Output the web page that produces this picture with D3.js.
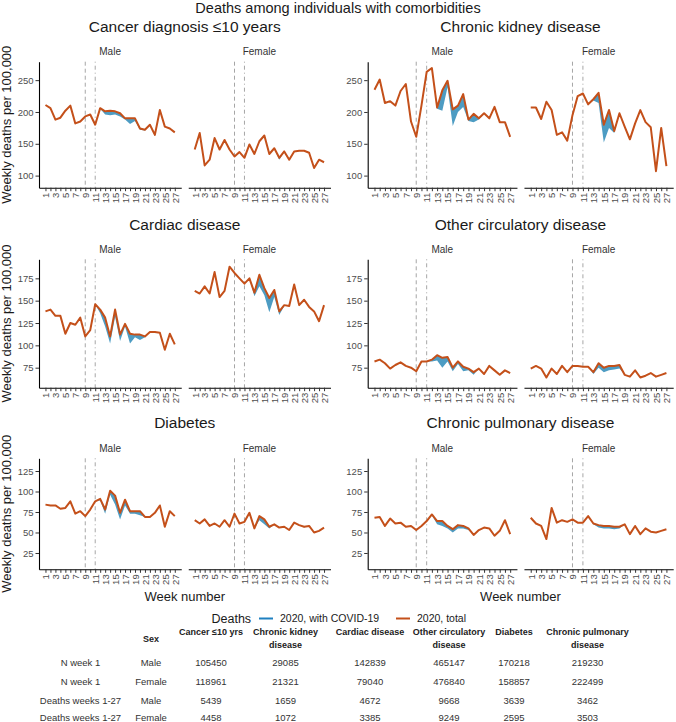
<!DOCTYPE html>
<html><head><meta charset="utf-8">
<script src="https://cdn.jsdelivr.net/npm/d3@7"></script>
<style>
body{margin:0;background:#fff}
svg{display:block;font-family:"Liberation Sans",Arial,Helvetica,sans-serif}
</style>
</head><body>
<svg id="chart" width="676" height="722"></svg>
<script>
// ---------------- DATA ----------------
const weeks = [1,2,3,4,5,6,7,8,9,10,11,12,13,14,15,16,17,18,19,20,21,22,23,24,25,26,27];
const weekTickLabels = [1,3,5,7,9,11,13,15,17,19,21,23,25,27];
const eventWeeks = [9, 11];
const sexes = ["Male", "Female"];
const panelTitles = ["Cancer diagnosis ≤10 years","Chronic kidney disease","Cardiac disease",
                     "Other circulatory disease","Diabetes","Chronic pulmonary disease"];

// weekly deaths per 100,000 (2020, total) and the part with COVID-19
const cancerMale       = [211,206,188,191,202,210,182,185,193,196,180,206,201,202,201,198,190,190,190,174,172,180,164,203,177,174,168];
const cancerMaleCovid  = [0,0,0,0,0,0,0,0,0,0,0,1,5,7,5,5,2,9,4,2,1,0,2,0,0,0,0];
const cancerFemale     = [141,167,116,125,159,141,156,141,130,137,128,149,134,154,163,134,143,128,138,125,138,139,139,136,112,125,121];
const cancerFemaleCovid= [0,0,0,0,0,0,0,0,0,0,0,0,1,1,2,0,1,3,1,0,0,0,0,0,0,0,0];

const kidneyMale       = [235,251,214,217,210,233,244,185,161,210,263,269,207,234,249,204,210,228,188,197,190,198,190,208,184,184,161];
const kidneyMaleCovid  = [0,0,0,0,0,0,0,0,0,0,0,0,2,32,10,26,10,20,2,13,2,0,0,0,0,0,0];
const kidneyFemale     = [207,207,189,216,203,164,168,155,195,225,229,212,220,230,180,203,170,198,177,157,182,203,184,176,107,175,115];
const kidneyFemaleCovid= [0,0,0,0,0,0,0,0,0,0,0,0,2,16,28,28,3,0,0,0,0,0,0,0,0,0,0];

const cardiacMale       = [138,140,133,133,113,125,123,131,110,117,146,140,131,110,140,112,124,113,112,112,110,115,115,114,95,113,101];
const cardiacMaleCovid  = [0,0,0,0,0,0,0,0,0,0,0,4,10,8,8,7,3,11,3,6,1,0,0,0,0,0,0];
const cardiacFemale     = [161,158,166,158,182,154,161,188,181,175,169,175,159,179,164,153,162,138,145,144,168,145,151,143,138,127,145];
const cardiacFemaleCovid= [0,0,0,0,0,0,0,0,0,0,0,0,4,13,8,16,8,4,1,0,0,0,0,0,0,0,0];

const circMale       = [82,84,80,74,78,81,77,75,71,82,82,84,89,86,87,75,82,76,74,70,74,68,77,72,67,72,69];
const circMaleCovid  = [0,0,0,0,0,0,0,0,0,0,0,2,6,11,5,4,3,5,2,3,0,0,0,0,0,0,0];
const circFemale     = [74,77,74,64,74,68,77,70,77,77,76,76,70,80,75,77,77,78,67,65,72,64,66,69,65,67,69];
const circFemaleCovid= [0,0,0,0,0,0,0,0,0,0,0,0,2,5,5,5,4,4,0,0,0,0,0,0,0,0,0];

const diabMale       = [84,83,83,79,80,88,73,76,70,78,88,91,78,101,95,74,90,76,76,76,69,69,74,83,57,76,70];
const diabMaleCovid  = [0,0,0,0,0,0,0,0,0,0,0,2,5,5,11,8,7,3,3,5,0,0,0,0,0,0,0];
const diabFemale     = [65,61,66,58,61,57,65,57,73,61,63,74,55,70,66,57,60,56,57,53,62,59,57,58,50,52,56];
const diabFemaleCovid= [0,0,0,0,0,0,0,0,0,0,0,0,0,5,6,2,0,0,0,0,0,0,1,0,0,0,0];

const copdMale       = [68,69,58,67,61,62,57,58,53,58,64,72,64,64,58,54,59,58,55,47,53,56,55,46,52,65,48];
const copdMaleCovid  = [0,0,0,0,0,0,0,0,0,0,0,1,4,6,3,4,4,3,2,0,0,0,0,0,0,0,0];
const copdFemale     = [68,61,58,42,80,62,65,63,66,62,62,70,61,59,58,58,57,57,60,48,58,48,55,51,50,52,54];
const copdFemaleCovid= [0,0,0,0,0,0,0,0,0,0,0,0,1,3,3,3,3,2,0,0,0,0,0,0,0,0,0];

const rowYTicks   = [[100,150,200,250],[75,100,125,150,175],[25,50,75,100,125]];
const rowYDomains = [[81,279],[52.6,196.3],[5.1,140.5]];

const mainTitle = "Deaths among individuals with comorbidities";
const yTitle = "Weekly deaths per 100,000";
const xTitle = "Week number";
const legendTitle = "Deaths";
const legendLabels = ["2020, with COVID-19", "2020, total"];

// table
const tableHeaders = [[""],["Sex"],["Cancer ≤10 yrs"],["Chronic kidney","disease"],["Cardiac disease"],
                      ["Other circulatory","disease"],["Diabetes"],["Chronic pulmonary","disease"]];
const tableRowLabels = ["N week 1","N week 1","Deaths weeks 1-27","Deaths weeks 1-27"];
const tableSex       = ["Male","Female","Male","Female"];
const tableCancer    = [105450,118961,5439,4458];
const tableKidney    = [29085,21321,1659,1072];
const tableCardiac   = [142839,79040,4672,3385];
const tableCirc      = [465147,476840,9668,9249];
const tableDiabetes  = [170218,158857,3639,2595];
const tablePulmonary = [219230,222499,3462,3503];

// ---------------- BUILD ----------------
const panels = [
  {title: panelTitles[0], series: [[cancerMale,cancerMaleCovid],[cancerFemale,cancerFemaleCovid]]},
  {title: panelTitles[1], series: [[kidneyMale,kidneyMaleCovid],[kidneyFemale,kidneyFemaleCovid]]},
  {title: panelTitles[2], series: [[cardiacMale,cardiacMaleCovid],[cardiacFemale,cardiacFemaleCovid]]},
  {title: panelTitles[3], series: [[circMale,circMaleCovid],[circFemale,circFemaleCovid]]},
  {title: panelTitles[4], series: [[diabMale,diabMaleCovid],[diabFemale,diabFemaleCovid]]},
  {title: panelTitles[5], series: [[copdMale,copdMaleCovid],[copdFemale,copdFemaleCovid]]}
];

const COL_BLUE_RIBBON = "#4d9cc3";
const COL_BLUE = "#1f80c0";
const COL_ORANGE = "#c4501a";
const TXT_AXIS = "#4d4d4d";

const COLS = [{x0: 39, x1: 330.5}, {x0: 367.7, x1: 673.2}];
const ROWS = [
  {top: 61.7, bottom: 187.7, title: 31.5, strip: 55},
  {top: 259.3, bottom: 387.7, title: 229.5, strip: 253},
  {top: 458.3, bottom: 569.3, title: 428, strip: 451.5}
];
const GAP = 7;

const svg = d3.select("#chart");

svg.append("text").attr("x", 338).attr("y", 13).attr("text-anchor","middle")
  .attr("font-size", 14.5).attr("fill","#1a1a1a").text(mainTitle);

panels.forEach((p, i) => {
  const r = Math.floor(i / 2), c = i % 2;
  const R = ROWS[r], C = COLS[c];
  const y = d3.scaleLinear().domain(rowYDomains[r]).range([R.bottom, R.top]);
  const fw = (C.x1 - C.x0 - GAP) / 2;

  svg.append("text").attr("x", (C.x0 + C.x1) / 2).attr("y", R.title)
    .attr("text-anchor","middle").attr("font-size", 15.5).attr("fill","#1a1a1a").text(p.title);

  p.series.forEach(([total, covid], s) => {
    const fx0 = C.x0 + s * (fw + GAP);
    const x = d3.scaleLinear().domain([weeks[0] - 1.3, weeks[weeks.length-1] + 1.3]).range([fx0, fx0 + fw]);
    const g = svg.append("g");

    g.append("text").attr("x", fx0 + fw / 2).attr("y", R.strip).attr("text-anchor","middle")
      .attr("font-size", 10).attr("fill","#333").text(sexes[s]);

    // event lines
    eventWeeks.forEach((w, k) => {
      g.append("line").attr("x1", x(w)).attr("x2", x(w)).attr("y1", R.top).attr("y2", R.bottom)
        .attr("stroke", "#a6a6a6").attr("stroke-width", 1)
        .attr("stroke-dasharray", k === 0 ? "4,3" : "1,3,4,3");
    });

    const rows = weeks.map((w, j) => ({w, t: total[j], c: covid[j]}));
    const area = d3.area().x(d => x(d.w)).y0(d => y(d.t - d.c)).y1(d => y(d.t));
    g.append("path").datum(rows).attr("d", area).attr("fill", COL_BLUE_RIBBON);
    const line = d3.line().x(d => x(d.w)).y(d => y(d.t));
    g.append("path").datum(rows).attr("d", line).attr("fill","none")
      .attr("stroke", COL_ORANGE).attr("stroke-width", 2).attr("stroke-linejoin","round");

    // x axis
    const xa = g.append("g").attr("transform", `translate(0,${R.bottom})`)
      .call(d3.axisBottom(x).tickValues(weeks).tickSize(3.5).tickSizeOuter(0)
        .tickFormat(d => weekTickLabels.includes(d) ? String(d) : ""));
    xa.select(".domain").attr("stroke","#000").attr("stroke-width",1.1);
    xa.selectAll(".tick line").attr("stroke","#333");
    xa.selectAll(".tick text").attr("transform","rotate(-90)").attr("x", -5).attr("y", 0)
      .attr("dy","0.35em").attr("text-anchor","end").attr("font-size", 9.5).attr("fill", TXT_AXIS)
      .attr("font-family", null);

    if (s === 0) {
      const ya = g.append("g").attr("transform", `translate(${C.x0},0)`)
        .call(d3.axisLeft(y).tickValues(rowYTicks[r]).tickSize(3.5).tickSizeOuter(0).tickPadding(2));
      ya.select(".domain").attr("stroke","#000").attr("stroke-width",1.1);
      ya.selectAll(".tick line").attr("stroke","#333");
      ya.selectAll(".tick text").attr("font-size", 9.5).attr("fill", TXT_AXIS).attr("font-family", null);
    }
  });

  if (c === 0) {
    const cy = (R.top + R.bottom) / 2;
    svg.append("text").attr("transform", `translate(11,${cy}) rotate(-90)`).attr("text-anchor","middle")
      .attr("font-size", 13).attr("fill","#1a1a1a").text(yTitle);
  }
  if (r === 2) {
    svg.append("text").attr("x", (C.x0 + C.x1) / 2).attr("y", 601).attr("text-anchor","middle")
      .attr("font-size", 13).attr("fill","#1a1a1a").text(xTitle);
  }
});

// legend
const lg = svg.append("g");
lg.append("text").attr("x", 211.5).attr("y", 623).attr("font-size", 12.5).attr("fill","#1a1a1a").text(legendTitle);
const legendItems = [{x: 259, col: COL_BLUE, label: legendLabels[0]}, {x: 396, col: COL_ORANGE, label: legendLabels[1]}];
legendItems.forEach(it => {
  lg.append("line").attr("x1", it.x).attr("x2", it.x + 14).attr("y1", 618.5).attr("y2", 618.5)
    .attr("stroke", it.col).attr("stroke-width", 2);
  lg.append("text").attr("x", it.x + 21).attr("y", 622).attr("font-size", 10.5).attr("fill","#1a1a1a").text(it.label);
});

// table
const colX = [80.5, 151, 211, 285.5, 370, 449, 514, 587.5];
const tg = svg.append("g").attr("font-size", 9.5);
tableHeaders.forEach((h, k) => {
  if (k === 1) {
    tg.append("text").attr("x", colX[k]).attr("y", 641.5).attr("text-anchor","middle")
      .attr("font-weight","bold").attr("font-size", 9).attr("fill","#222").text(h[0]);
  } else {
    h.forEach((ln, li) => {
      tg.append("text").attr("x", colX[k]).attr("y", 635 + li * 12.5).attr("text-anchor","middle")
        .attr("font-weight","bold").attr("font-size", 9).attr("fill","#222").text(ln);
    });
  }
});
const tableCols = [tableRowLabels, tableSex, tableCancer, tableKidney, tableCardiac, tableCirc, tableDiabetes, tablePulmonary];
const rowBase = [666, 685, 704, 720.5];
tableCols.forEach((col, k) => {
  col.forEach((v, ri) => {
    tg.append("text").attr("x", colX[k]).attr("y", rowBase[ri]).attr("text-anchor","middle")
      .attr("fill","#333").text(String(v));
  });
});
</script>
</body></html>
